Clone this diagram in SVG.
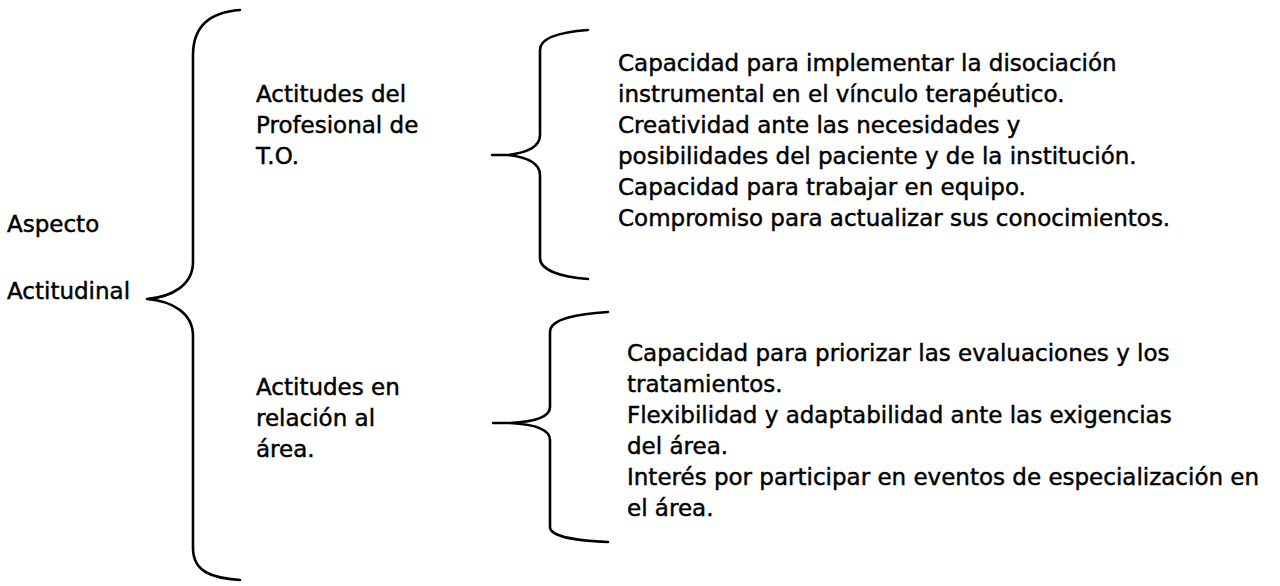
<svg xmlns="http://www.w3.org/2000/svg" width="1280" height="586" viewBox="0 0 1280 586">
<style>
text{font-family:"DejaVu Sans","Liberation Sans",sans-serif;font-size:23px;fill:#000;stroke:#000;stroke-width:0.45}
.br{fill:none;stroke:#000;stroke-width:2.6;stroke-linecap:round;stroke-linejoin:round}
</style>
<rect width="1280" height="586" fill="#fff"/>
<g id="connectors">
<path class="br" d="M240,10 C212,12 193,25 193,55 L193,262 C193,285 172,297 147,299 C172,301 193,313 193,336 L193,548 C193,572 212,578 240,580"/>
<path class="br" d="M588,30 C560,32 540,38 540,50 L540,135 C540,148 525,153 508,155 L492,155 M508,155 C525,157 540,162 540,175 L540,258 C540,270 560,277 588,279"/>
<path class="br" d="M608,312 C580,314 550,318 550,332 L550,407 C550,418 530,422 510,423 L493,423 M510,423 C530,424 550,428 550,440 L550,527 C550,537 580,541 608,542"/>
</g>
<g id="root">
<text x="7" y="232">Aspecto</text>
<text x="7" y="299">Actitudinal</text>
</g>
<g id="profesional">
<text x="256" y="102">Actitudes del</text>
<text x="256" y="133">Profesional de</text>
<text x="256" y="164">T.O.</text>
</g>
<g id="area">
<text x="256" y="395">Actitudes en</text>
<text x="256" y="426">relación al</text>
<text x="256" y="457">área.</text>
</g>
<g id="profesional-items">
<text x="618" y="71">Capacidad para implementar la disociación</text>
<text x="618" y="102">instrumental en el vínculo terapéutico.</text>
<text x="618" y="133">Creatividad ante las necesidades y</text>
<text x="618" y="164">posibilidades del paciente y de la institución.</text>
<text x="618" y="195">Capacidad para trabajar en equipo.</text>
<text x="618" y="226">Compromiso para actualizar sus conocimientos.</text>
</g>
<g id="area-items">
<text x="627" y="361">Capacidad para priorizar las evaluaciones y los</text>
<text x="627" y="392">tratamientos.</text>
<text x="627" y="423">Flexibilidad y adaptabilidad ante las exigencias</text>
<text x="627" y="454">del área.</text>
<text x="627" y="485">Interés por participar en eventos de especialización en</text>
<text x="627" y="516">el área.</text>
</g>
</svg>
